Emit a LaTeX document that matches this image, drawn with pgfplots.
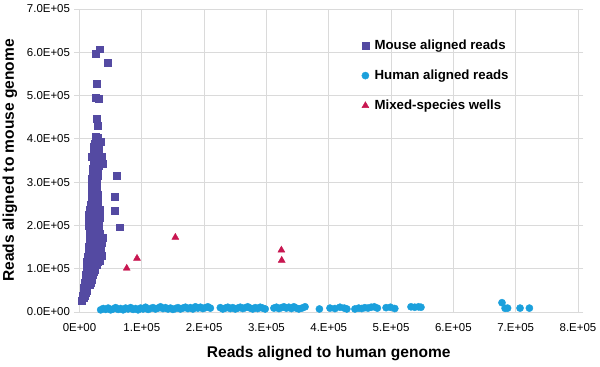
\documentclass[border=0pt]{standalone}
\usepackage{pgfplots}
\pgfplotsset{compat=1.18}
\usepackage{fontspec}
\setmainfont{Liberation Sans}
\definecolor{mousec}{RGB}{84,74,162}
\definecolor{humanc}{RGB}{27,160,220}
\definecolor{mixc}{RGB}{200,22,80}
\definecolor{gridc}{RGB}{218,218,218}
\begin{document}
\begin{tikzpicture}
\begin{axis}[
  scale only axis,
  width=498.5bp, height=303bp,
  xmin=0, xmax=800000, ymin=0, ymax=700000,
  scaled ticks=false,
  /pgf/number format/assume math mode=true,
  xtick={0,100000,200000,300000,400000,500000,600000,700000,800000},
  xticklabels={0E+00,1.E+05,2.E+05,3.E+05,4.E+05,5.E+05,6.E+05,7.E+05,8.E+05},
  ytick={0,100000,200000,300000,400000,500000,600000,700000},
  yticklabels={0.0E+00,1.0E+05,2.0E+05,3.0E+05,4.0E+05,5.0E+05,6.0E+05,7.0E+05},
  grid=major,
  grid style={gridc, line width=0.8bp},
  axis line style={gridc, line width=0.8bp},
  x tick style={draw=none},
  y tick style={gridc, line width=0.8bp},
  tick align=outside,
  major tick length=5bp,
  ticklabel style={font=\fontsize{11.5}{13}\selectfont, text=black},
  xticklabel style={yshift=-3bp},
  yticklabel style={xshift=-1bp},
  xlabel={Reads aligned to human genome},
  ylabel={Reads aligned to mouse genome},
  label style={font=\fontsize{15.6}{17}\bfseries\selectfont, text=black},
  xlabel style={at={(axis description cs:0.5,0)}, anchor=center, yshift=-42bp},
  ylabel style={at={(axis description cs:-0.1394,0.5)}, anchor=center},
  legend style={at={(axis description cs:0.5647,0.905)}, anchor=north west,
    draw=none, fill=none, font=\fontsize{13.3}{15}\bfseries\selectfont,
    row sep=15bp, inner sep=0bp},
  legend cell align=left,
  legend image code/.code={\draw[#1] plot coordinates {(0bp,0bp)}; \path (-4bp,0bp) (7bp,0bp);},
  clip=false,
]
\addplot[only marks, mark=square*, mark size=3.4bp, color=mousec, mark options={fill=mousec, draw=mousec}] coordinates {
(4000,26000)(5000,32000)(7000,32000)(5000,38000)(9000,38000)
(6000,44000)(10000,44000)(7000,50000)(11000,50000)(7000,56000)(12000,56000)
(8000,62000)(13000,62000)(16000,62000)(8000,68000)(13000,68000)(18000,68000)
(9000,74000)(14000,74000)(19000,74000)(10000,80000)(15000,80000)(20000,80000)
(10000,86000)(16000,86000)(22000,86000)(11000,92000)(17000,92000)(23000,92000)
(11000,98000)(17000,98000)(24000,98000)(12000,104000)(18000,104000)(25000,104000)
(12000,110000)(19000,110000)(27000,110000)(12000,116000)(19000,116000)(26000,116000)(30000,116000)
(13000,122000)(20000,122000)(27000,122000)(13000,128000)(20000,128000)(28000,128000)
(14000,134000)(21000,134000)(29000,134000)(14000,140000)(22000,140000)(30000,140000)
(15000,146000)(22000,146000)(31000,146000)(15000,152000)(23000,152000)(32000,152000)
(16000,158000)(23000,158000)(30000,158000)(16000,164000)(24000,164000)(31000,164000)
(17000,170000)(24000,170000)(32000,170000)(17000,176000)(25000,176000)(31000,176000)
(17000,182000)(24000,182000)(32000,182000)(16000,188000)(23000,188000)(30000,188000)
(16000,194000)(24000,194000)(31000,194000)(15000,200000)(22000,200000)(29000,200000)
(15000,206000)(23000,206000)(31000,206000)(14000,212000)(22000,212000)(30000,212000)
(15000,218000)(23000,218000)(32000,218000)(15000,224000)(24000,224000)(30000,224000)
(16000,230000)(24000,230000)(31000,230000)(17000,236000)(25000,236000)(32000,236000)
(18000,242000)(25000,242000)(30000,242000)(18000,248000)(26000,248000)
(19000,254000)(26000,254000)(30000,254000)(19000,260000)(25000,260000)
(20000,266000)(27000,266000)(19000,272000)(26000,272000)(30000,272000)
(20000,278000)(27000,278000)(20000,284000)(26000,284000)
(21000,290000)(28000,290000)(20000,296000)(27000,296000)
(21000,302000)(28000,302000)(20000,308000)(27000,308000)
(21000,314000)(29000,314000)(21000,320000)(28000,320000)
(22000,326000)(30000,326000)(21000,332000)(28000,332000)
(22000,338000)(31000,338000)(22000,344000)(29000,344000)
(23000,350000)(30000,350000)(22000,358000)(29000,358000)
(23000,366000)(30000,366000)(24000,374000)(31000,374000)
(23000,382000)(30000,382000)(25000,390000)(31000,390000)(26000,398000)(30000,398000)
(32900,607000)(26500,596000)(45200,576000)(27600,528000)
(25400,495000)(30800,492000)(27600,446000)(28600,430000)
(26500,406000)(29700,403000)(34500,393000)(24400,379000)
(20100,359000)(35000,360000)(37200,343000)(59100,314000)
(57000,266000)(57000,234000)(64500,196000)(37700,172500)
(34000,147000)(32400,118000)(36000,130000)(35000,160000)
};
\addlegendentry{Mouse aligned reads}
\addplot[only marks, mark=*, mark size=3.6bp, color=humanc, mark options={fill=humanc, draw=humanc}] coordinates {
(34000,5000)(38000,8000)(42000,6000)(46000,9000)(50000,5000)(54000,7000)
(58000,10000)(62000,6000)(66000,8000)(70000,5000)(74000,9000)(78000,7000)
(82000,10000)(86000,6000)(90000,8000)(94000,5000)(98000,9000)(102000,7000)
(106000,11000)(110000,6000)(114000,8000)(118000,10000)(122000,7000)(126000,9000)
(130000,12000)(134000,8000)(138000,10000)(142000,7000)(146000,9000)(150000,6000)
(154000,8000)(158000,10000)(162000,7000)(166000,9000)(170000,11000)(174000,8000)
(178000,10000)(182000,7000)(186000,12000)(190000,9000)(194000,11000)(198000,8000)
(202000,10000)(206000,12000)(210000,9000)
(226000,10000)(230000,7000)(234000,9000)(238000,11000)(242000,8000)(246000,10000)
(250000,7000)(254000,9000)(258000,11000)(262000,8000)(266000,10000)(270000,12000)
(274000,9000)(278000,7000)(282000,10000)(286000,8000)(290000,11000)(294000,9000)
(298000,7000)
(312000,9000)(316000,11000)(320000,8000)(324000,10000)(328000,12000)(332000,9000)
(336000,11000)(340000,8000)(344000,12000)(348000,9000)(352000,7000)(357000,9000)
(362000,12000)
(385000,7000)(402000,9000)(410000,8000)(418000,11000)(425000,9000)(429000,7000)
(442000,7000)(448000,9000)(453000,8000)(458000,10000)(463000,9000)(468000,11000)
(473000,12000)(478000,9000)(492000,10000)(499000,11000)(506000,8000)
(532000,12000)(538000,11000)(544000,12000)(548000,11000)
(678000,21500)(683000,8500)(687000,9000)(707000,9000)(722000,9000)
};
\addlegendentry{Human aligned reads}
\addplot[only marks, mark=triangle*, mark size=4bp, color=mixc, mark options={fill=mixc, draw=mixc}] coordinates {
(75800,101000)(92300,124000)(153800,172500)(324000,143000)(324500,119400)
};
\addlegendentry{Mixed-species wells}
\end{axis}
\pgfresetboundingbox
\path[use as bounding box] ([shift={(-79.5bp,-55bp)}]current axis.south west) rectangle ([shift={(22bp,9bp)}]current axis.north east);
\end{tikzpicture}
\end{document}
